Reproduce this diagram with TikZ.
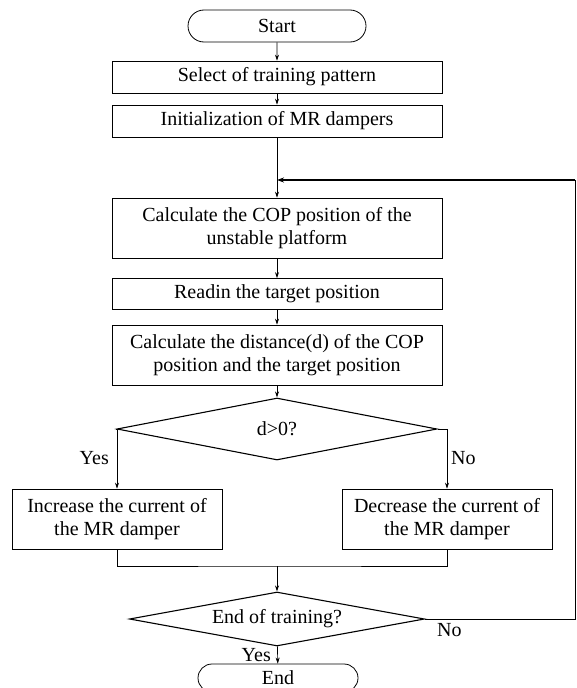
\documentclass[tikz,border=0pt]{standalone}
\usepackage{fontspec}
\setmainfont{Liberation Serif}
\usetikzlibrary{shapes.geometric,shapes.misc,arrows.meta}
\begin{document}
\begin{tikzpicture}[x=1pt,y=-1pt,
  every node/.style={font=\fontsize{20}{22.5}\selectfont},
  stepbox/.style={draw,line width=0.7pt,rectangle,align=center,inner sep=0pt,minimum width=330pt},
  sidebox/.style={draw,line width=0.7pt,rectangle,align=center,inner sep=0pt,minimum width=210pt,minimum height=60pt},
  term/.style={draw,line width=0.8pt,rounded rectangle,minimum width=178pt,minimum height=32pt,inner sep=0pt},
  decide/.style={draw,line width=1.1pt,diamond,inner sep=0pt,aspect=5.5},
  conn/.style={line width=0.7pt},
  arr/.style={line width=0.7pt,-{Stealth[length=6pt,width=4pt]}},
  lbl/.style={inner sep=1pt}
]
\useasboundingbox (0,0) rectangle (577,688);
\fill[white] (0,0) rectangle (577,688);

\node[term] (start) at (277,26) {Start};
\node[stepbox,minimum height=32pt] (select) at (277,77) {Select of training pattern};
\node[stepbox,minimum height=32pt] (init) at (277,121) {Initialization of MR dampers};
\coordinate (merge) at (277,180);
\node[stepbox,minimum height=60pt] (cop) at (277,228) {Calculate the COP position of the\\unstable platform};
\node[stepbox,minimum height=31pt] (read) at (277,294) {Readin the target position};
\node[stepbox,minimum height=60pt] (dist) at (277,355) {Calculate the distance(d) of the COP\\position and the target position};
\node[decide,minimum width=320pt,minimum height=62pt] (d1) at (277,429) {d>0?};
\node[sidebox] (inc) at (117,519) {Increase the current of\\the MR damper};
\node[sidebox] (dec) at (447,519) {Decrease the current of\\the MR damper};
\coordinate (join) at (277,566);
\node[decide,minimum width=295pt,minimum height=54pt] (d2) at (277,619) {End of training?};
\node[term,minimum width=160pt,minimum height=28pt] (end) at (278,678) {End};
\coordinate (rb) at (575,619);
\coordinate (rt) at (575,180);

\draw[arr] (start) -- (select);
\draw[arr] (select) -- (init);
\draw[conn] (init) -- (merge);
\draw[arr] (merge) -- (cop);
\draw[arr] (cop) -- (read);
\draw[arr] (read) -- (dist);
\draw[arr] (dist) -- (d1);
\draw[arr] (d1.west) -| (inc.north);
\draw[arr] (d1.east) -| (dec.north);
\node[lbl,anchor=south east] at (110,466) {Yes};
\node[lbl,anchor=south west] at (450,466) {No};
\draw[conn] (inc.south) |- (join) -| (dec.south);
\draw[arr] (join) -- (d2);
\draw[arr] (d2) -- (end);
\node[lbl,anchor=east] at (272,655) {Yes};
\node[lbl,anchor=west] at (436,630) {No};
\draw[conn] (d2.east) -- (rb) -- (rt);
\draw[line width=1.5pt,-{Stealth[length=7pt,width=5pt]}] (rt) -- (merge);
\end{tikzpicture}
\end{document}
